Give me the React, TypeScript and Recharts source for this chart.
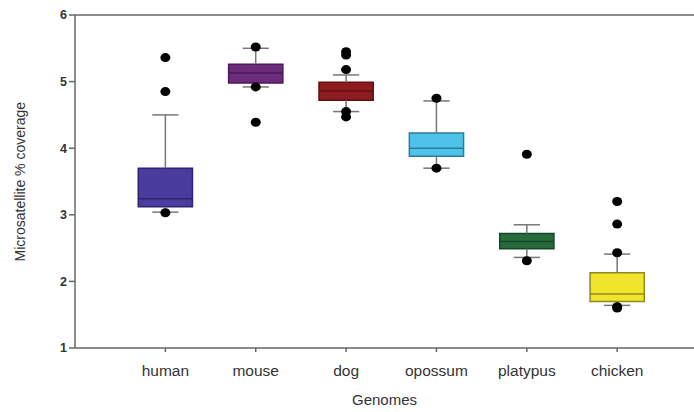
import { ComposedChart, XAxis, YAxis, Scatter, ReferenceArea, ReferenceLine } from "recharts"

const genomes = ["human", "mouse", "dog", "opossum", "platypus", "chicken"]
const lowerWhisker = [3.04, 4.92, 4.55, 3.7, 2.36, 1.64]
const q1 = [3.12, 4.98, 4.72, 3.88, 2.49, 1.7]
const medians = [3.24, 5.13, 4.86, 4.0, 2.6, 1.81]
const q3 = [3.7, 5.26, 4.99, 4.23, 2.72, 2.13]
const upperWhisker = [4.5, 5.5, 5.1, 4.71, 2.85, 2.41]
const outliers = [
  [5.36, 4.85, 3.03],
  [5.52, 4.92, 4.39],
  [5.45, 5.4, 5.18, 4.55, 4.47],
  [4.75, 3.7],
  [3.91, 2.31],
  [3.2, 2.86, 2.43, 1.62, 1.6],
]
const yTicks = [1, 2, 3, 4, 5, 6]
const xTicks = [1, 2, 3, 4, 5, 6]

const boxFill = ["#4a3c9e", "#6c2b7c", "#8e1b1f", "#4ec3ea", "#276b3c", "#f0e52c"]
const boxStroke = ["#2e2470", "#4a1a58", "#5e1013", "#2a7c9a", "#16462a", "#8f8a20"]

const boxHalf = 0.3
const capHalf = 0.145

const outlierPoints = outliers.flatMap((vals, i) => vals.map((v) => ({ x: i + 1, y: v })))

const axisColor = "#666"
const textColor = "#333"

export default function App() {
  return (
    <div style={{ position: "absolute", left: 0, top: 0, fontFamily: "'Liberation Sans', Arial, sans-serif" }}>
      <ComposedChart width={694} height={412} margin={{ top: 15, right: 0, bottom: 0, left: 15 }}>
        <XAxis
          type="number"
          dataKey="x"
          domain={[0, 6.85]}
          ticks={xTicks}
          tickFormatter={(v) => genomes[v - 1]}
          height={64}
          stroke={axisColor}
          strokeWidth={1.5}
          tickSize={4}
          tick={{ fill: textColor, fontSize: 15.5, dy: 11 }}
          label={{ value: "Genomes", position: "insideBottom", offset: 7, fill: textColor, fontSize: 15 }}
        />
        <YAxis
          type="number"
          dataKey="y"
          domain={[1, 6]}
          ticks={yTicks}
          width={60}
          stroke={axisColor}
          strokeWidth={1.5}
          tickSize={6}
          tick={{ fill: textColor, fontSize: 12.5, fontWeight: "bold" }}
          label={{
            value: "Microsatellite % coverage",
            angle: -90,
            position: "insideLeft",
            offset: 5,
            dy: 80,
            fill: textColor,
            fontSize: 14,
          }}
        />
        <ReferenceLine y={6} stroke={axisColor} strokeWidth={1.5} />
        {genomes.map((g, i) => (
          <ReferenceLine
            key={`wu-${g}`}
            segment={[{ x: i + 1, y: q3[i] }, { x: i + 1, y: upperWhisker[i] }]}
            stroke="#777"
            strokeWidth={1.5}
          />
        ))}
        {genomes.map((g, i) => (
          <ReferenceLine
            key={`wl-${g}`}
            segment={[{ x: i + 1, y: q1[i] }, { x: i + 1, y: lowerWhisker[i] }]}
            stroke="#777"
            strokeWidth={1.5}
          />
        ))}
        {genomes.map((g, i) => (
          <ReferenceLine
            key={`cu-${g}`}
            segment={[{ x: i + 1 - capHalf, y: upperWhisker[i] }, { x: i + 1 + capHalf, y: upperWhisker[i] }]}
            stroke="#777"
            strokeWidth={1.5}
          />
        ))}
        {genomes.map((g, i) => (
          <ReferenceLine
            key={`cl-${g}`}
            segment={[{ x: i + 1 - capHalf, y: lowerWhisker[i] }, { x: i + 1 + capHalf, y: lowerWhisker[i] }]}
            stroke="#777"
            strokeWidth={1.5}
          />
        ))}
        {genomes.map((g, i) => (
          <ReferenceArea
            key={`box-${g}`}
            x1={i + 1 - boxHalf}
            x2={i + 1 + boxHalf}
            y1={q1[i]}
            y2={q3[i]}
            fill={boxFill[i]}
            fillOpacity={1}
            stroke={boxStroke[i]}
            strokeWidth={1.5}
          />
        ))}
        {genomes.map((g, i) => (
          <ReferenceLine
            key={`med-${g}`}
            segment={[{ x: i + 1 - boxHalf, y: medians[i] }, { x: i + 1 + boxHalf, y: medians[i] }]}
            stroke={boxStroke[i]}
            strokeWidth={1.5}
          />
        ))}
        <Scatter
          data={outlierPoints}
          dataKey="y"
          fill="#000"
          isAnimationActive={false}
          shape={(p: any) => <ellipse cx={p.cx} cy={p.cy} rx={5} ry={4.5} fill="#000" />}
        />
      </ComposedChart>
    </div>
  )
}
